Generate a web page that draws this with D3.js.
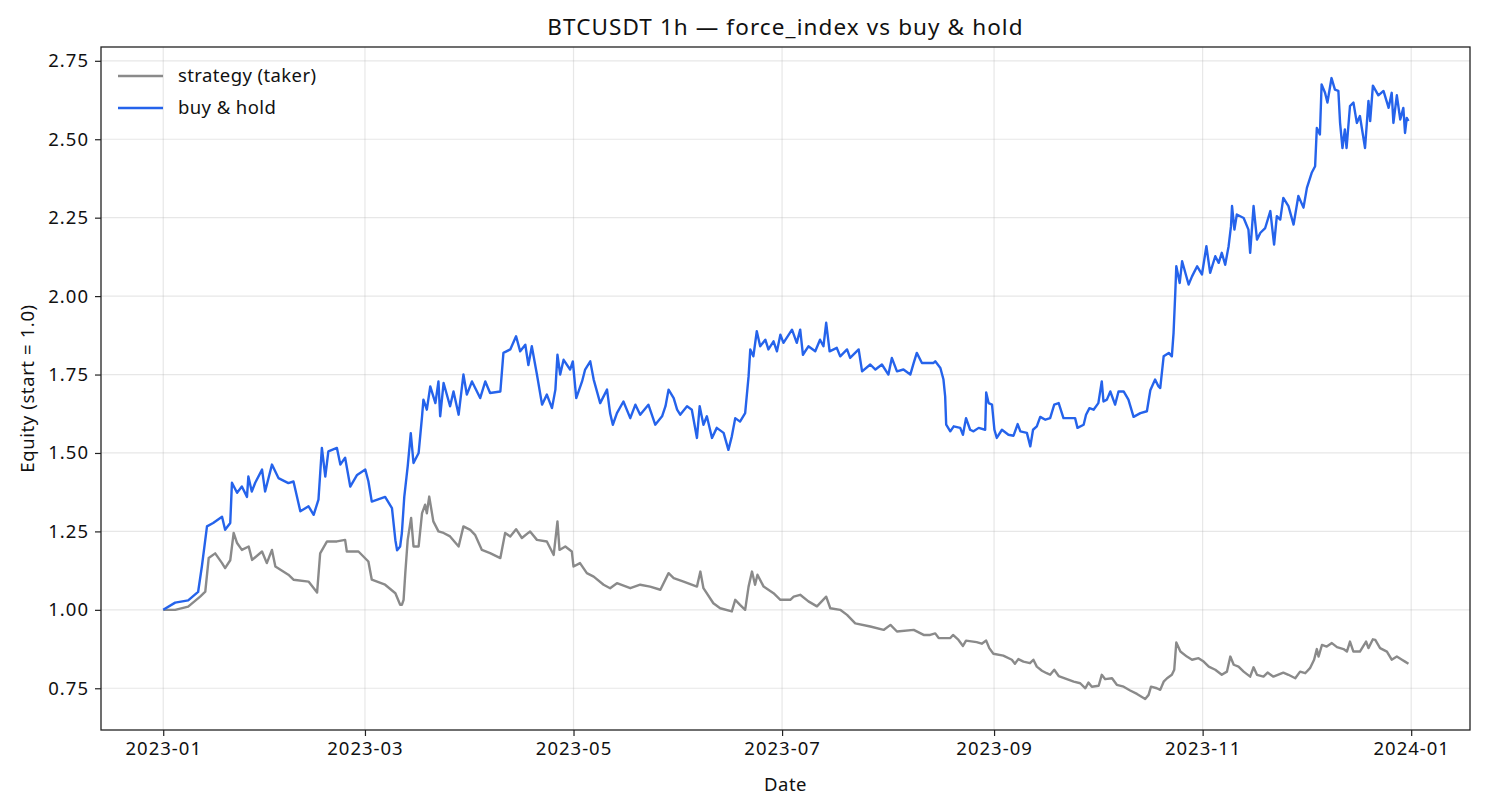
<!DOCTYPE html>
<html>
<head>
<meta charset="utf-8">
<script src="https://cdn.jsdelivr.net/npm/d3@7"></script>
<style>
  html, body { margin: 0; padding: 0; background: #ffffff; }
  svg { display: block; font-family: "Noto Sans", sans-serif; }
</style>
</head>
<body>
<svg id="chart" width="1485" height="810"></svg>
<script>
// ---- data: [day offset from 2023-01-01, equity] ----
const strategyLabel = "strategy (taker)";
const buyHoldLabel = "buy & hold";
const yTickValues = [0.75, 1.00, 1.25, 1.50, 1.75, 2.00, 2.25, 2.50, 2.75];

const strategy = [
[0,1.00],[3.5,1.00],[7.3,1.01],[10.8,1.042],[12.3,1.058],[13.3,1.165],[15.2,1.18],[17.2,1.149],[18.1,1.133],
[19.6,1.158],[20.6,1.245],[21.6,1.213],[23.0,1.191],[25.0,1.202],[26.0,1.159],[28.9,1.186],[30.3,1.149],
[31.8,1.191],[32.8,1.138],[36.6,1.112],[38.1,1.096],[42.5,1.09],[45.0,1.055],[45.9,1.18],[47.9,1.218],
[50.8,1.218],[53.2,1.223],[53.7,1.186],[57.1,1.186],[60.0,1.154],[61.0,1.096],[64.9,1.08],[67.9,1.053],
[69.3,1.016],[69.8,1.016],[70.3,1.032],[70.8,1.117],[71.5,1.223],[72.5,1.293],[73.2,1.202],[74.7,1.202],
[75.7,1.308],[76.6,1.335],[77.1,1.308],[77.8,1.361],[79.0,1.282],[80.5,1.25],[82.0,1.245],[83.9,1.234],
[86.4,1.202],[87.8,1.266],[89.8,1.255],[91.2,1.239],[93.2,1.191],[95.6,1.181],[98.6,1.165],[100.0,1.245],
[101.5,1.234],[103.2,1.257],[104.9,1.229],[107.3,1.25],[109.3,1.223],[112.2,1.218],[114.2,1.175],[115.3,1.282],
[115.9,1.191],[117.6,1.202],[119.5,1.186],[120.0,1.138],[121.9,1.149],[123.9,1.117],[125.9,1.106],[128.8,1.08],
[130.7,1.069],[132.7,1.085],[136.6,1.069],[139.5,1.08],[142.4,1.074],[145.4,1.064],[147.8,1.117],[149.3,1.101],
[152.2,1.09],[156.1,1.074],[157.1,1.122],[158.0,1.069],[160.9,1.021],[162.9,1.005],[166.3,0.995],[167.3,1.032],
[168.7,1.016],[170.2,1.0],[171.2,1.074],[172.2,1.122],[173.1,1.08],[173.8,1.112],[175.6,1.074],[178.5,1.053],
[180.5,1.032],[183.4,1.032],[184.4,1.042],[186.3,1.048],[188.7,1.027],[191.2,1.011],[193.9,1.042],[195.1,1.005],
[198.0,1.0],[200.0,0.984],[202.4,0.957],[206.8,0.947],[210.7,0.936],[212.7,0.952],[214.6,0.931],[219.5,0.936],
[222.4,0.92],[224.3,0.92],[225.8,0.925],[226.8,0.91],[230.2,0.91],[231.0,0.92],[232.6,0.904],[233.9,0.885],
[234.8,0.902],[237.9,0.897],[239.4,0.892],[240.7,0.902],[241.6,0.878],[242.8,0.86],[245.7,0.854],[248.2,0.841],
[249.1,0.828],[250.1,0.843],[251.6,0.835],[253.5,0.83],[254.5,0.841],[255.5,0.819],[257.0,0.806],[258.4,0.798],
[259.4,0.793],[260.6,0.809],[261.9,0.789],[264.3,0.779],[266.3,0.771],[268.2,0.766],[269.7,0.75],[270.6,0.768],
[271.6,0.755],[273.6,0.758],[274.5,0.793],[275.5,0.779],[277.5,0.782],[278.9,0.761],[280.9,0.755],[282.8,0.743],
[284.8,0.732],[287.2,0.716],[288.2,0.729],[288.9,0.755],[290.6,0.75],[291.6,0.745],[292.6,0.771],[293.6,0.782],
[295.0,0.793],[295.7,0.809],[296.3,0.896],[297.5,0.867],[299.4,0.851],[300.9,0.841],[302.8,0.846],[304.3,0.835],
[305.8,0.819],[307.7,0.809],[309.6,0.793],[311.1,0.803],[312.1,0.851],[313.1,0.825],[314.5,0.819],[316.0,0.803],
[317.9,0.787],[318.9,0.817],[319.9,0.793],[321.8,0.787],[323.0,0.8],[324.7,0.787],[327.6,0.8],[329.1,0.793],
[331.1,0.782],[332.5,0.803],[334.0,0.798],[335.4,0.814],[336.6,0.841],[337.4,0.875],[337.9,0.851],[338.9,0.888],
[340.3,0.883],[341.8,0.894],[343.3,0.881],[345.2,0.875],[346.2,0.867],[347.1,0.899],[348.1,0.867],[350.0,0.867],
[351.8,0.899],[352.5,0.878],[353.8,0.906],[354.5,0.904],[355.9,0.878],[357.9,0.867],[359.3,0.841],[360.8,0.851],
[362.3,0.841],[363.2,0.835],[364.2,0.828]
];

const buyHold = [
[0,1.00],[3.5,1.023],[7.3,1.03],[10.2,1.057],[11.3,1.138],[12.8,1.266],[14.6,1.277],[17.2,1.297],[18.1,1.255],
[19.6,1.277],[20.1,1.405],[21.6,1.373],[23.0,1.393],[24.5,1.36],[24.9,1.425],[25.9,1.377],[26.9,1.405],
[28.9,1.447],[29.8,1.377],[31.8,1.463],[33.7,1.42],[36.6,1.404],[38.1,1.409],[40.1,1.314],[42.5,1.33],
[44.0,1.303],[45.4,1.351],[46.4,1.516],[47.4,1.425],[48.3,1.505],[50.8,1.516],[51.8,1.463],[53.2,1.485],
[54.7,1.393],[56.7,1.43],[59.1,1.447],[60.0,1.41],[61.0,1.345],[64.9,1.36],[66.9,1.324],[67.9,1.222],
[68.4,1.19],[69.3,1.202],[69.8,1.245],[70.5,1.36],[71.5,1.457],[72.4,1.563],[73.2,1.468],[74.7,1.5],
[75.7,1.617],[76.1,1.67],[77.1,1.638],[78.1,1.712],[79.6,1.659],[80.5,1.728],[81.0,1.617],[82.0,1.723],
[83.9,1.649],[84.9,1.696],[86.4,1.622],[87.8,1.75],[88.8,1.686],[90.3,1.728],[92.7,1.675],[94.2,1.728],
[95.6,1.691],[98.6,1.696],[99.5,1.819],[101.5,1.83],[103.2,1.872],[104.4,1.824],[105.9,1.845],[106.8,1.78],
[107.8,1.84],[109.3,1.75],[110.8,1.654],[112.2,1.686],[113.7,1.643],[114.7,1.702],[115.3,1.813],[116.1,1.75],
[117.1,1.797],[119.0,1.766],[119.8,1.792],[120.8,1.675],[122.5,1.728],[123.4,1.766],[124.9,1.792],[125.9,1.734],
[127.8,1.659],[129.8,1.702],[130.7,1.627],[131.5,1.59],[132.7,1.627],[134.6,1.664],[136.6,1.611],[138.1,1.654],
[139.5,1.622],[141.9,1.654],[143.9,1.59],[145.9,1.617],[146.9,1.649],[147.8,1.702],[149.3,1.675],[150.3,1.638],
[151.2,1.622],[153.2,1.649],[154.6,1.638],[156.1,1.548],[156.9,1.649],[158.0,1.59],[159.0,1.617],[160.5,1.548],
[161.9,1.58],[163.9,1.564],[165.3,1.51],[166.3,1.553],[167.3,1.611],[168.7,1.6],[170.2,1.627],[171.2,1.744],
[171.7,1.83],[172.6,1.808],[173.6,1.888],[174.6,1.84],[176.1,1.861],[177.0,1.83],[178.5,1.856],[179.5,1.824],
[180.5,1.877],[181.4,1.851],[183.9,1.893],[185.3,1.851],[186.3,1.893],[187.1,1.813],[188.7,1.84],[190.7,1.824],
[192.1,1.861],[193.1,1.84],[193.9,1.915],[194.9,1.824],[197.0,1.835],[198.0,1.808],[200.0,1.83],[200.9,1.803],
[203.4,1.83],[204.4,1.76],[206.8,1.782],[208.3,1.766],[210.2,1.782],[212.1,1.75],[213.1,1.803],[214.6,1.76],
[216.5,1.766],[218.5,1.75],[219.5,1.787],[220.4,1.819],[221.9,1.787],[225.3,1.787],[225.8,1.792],[227.3,1.771],
[228.2,1.734],[228.7,1.68],[229.0,1.59],[230.2,1.569],[231.2,1.585],[233.1,1.58],[233.9,1.558],[234.8,1.611],
[236.0,1.574],[237.0,1.569],[238.5,1.58],[240.4,1.574],[240.7,1.693],[241.4,1.659],[242.4,1.654],[243.1,1.574],
[243.8,1.548],[245.3,1.574],[247.2,1.558],[248.7,1.555],[249.9,1.592],[250.7,1.569],[252.6,1.564],[253.6,1.521],
[254.4,1.574],[255.5,1.585],[256.5,1.615],[258.0,1.606],[259.4,1.611],[260.6,1.654],[261.9,1.659],[263.3,1.611],
[265.3,1.611],[266.7,1.611],[267.4,1.58],[269.2,1.59],[269.9,1.622],[270.9,1.643],[272.1,1.638],[273.5,1.659],
[274.5,1.728],[275.0,1.664],[276.0,1.67],[277.0,1.696],[278.4,1.654],[279.4,1.696],[280.9,1.696],[282.3,1.67],
[283.8,1.615],[285.8,1.627],[287.7,1.633],[288.7,1.70],[290.1,1.734],[291.1,1.712],[291.6,1.707],[292.6,1.808],
[294.1,1.819],[295.0,1.808],[295.5,1.883],[296.0,2.01],[296.3,2.095],[297.3,2.042],[298.0,2.111],[299.9,2.037],
[300.9,2.063],[302.4,2.095],[303.8,2.069],[305.1,2.159],[306.2,2.074],[307.7,2.127],[308.7,2.106],[309.6,2.138],
[310.6,2.1],[311.6,2.159],[312.3,2.223],[312.6,2.287],[313.3,2.212],[314.0,2.26],[316.0,2.249],[317.4,2.212],
[317.9,2.138],[318.9,2.287],[319.9,2.18],[320.9,2.202],[322.3,2.217],[323.8,2.271],[324.9,2.164],[325.7,2.255],
[326.7,2.244],[327.6,2.313],[329.1,2.287],[330.6,2.228],[332.0,2.319],[333.5,2.282],[334.5,2.345],[335.9,2.393],
[336.9,2.414],[337.4,2.536],[338.3,2.515],[338.8,2.675],[339.8,2.648],[340.5,2.617],[341.7,2.695],[342.7,2.658],
[343.7,2.654],[344.2,2.552],[344.9,2.472],[345.6,2.531],[346.1,2.472],[347.1,2.606],[348.1,2.617],[349.1,2.552],
[350.0,2.574],[351.5,2.472],[352.5,2.622],[353.0,2.558],[353.8,2.671],[355.4,2.64],[356.9,2.654],[358.4,2.6],
[359.3,2.648],[359.8,2.552],[360.8,2.64],[361.8,2.563],[362.7,2.6],[363.2,2.52],[363.7,2.568],[364.2,2.558]
];

// ---- layout ----
const svg = d3.select("#chart");
const plot = { left: 101, right: 1470, top: 47, bottom: 730 };
const t0 = Date.UTC(2023, 0, 1);
const DAY = 864e5;
const toDate = d => new Date(t0 + d * DAY);

const x = d3.scaleUtc()
  .domain([toDate(-18.2), toDate(382.2)])
  .range([plot.left, plot.right]);
const y = d3.scaleLinear()
  .domain([0.617, 2.794])
  .range([plot.bottom, plot.top]);

const font = '"Noto Sans", sans-serif';

// grid
const xTicks = x.ticks(d3.utcMonth.every(2));
const grid = svg.append("g");
grid.selectAll(".gx").data(xTicks).join("line")
  .attr("x1", d => x(d)).attr("x2", d => x(d))
  .attr("y1", plot.top).attr("y2", plot.bottom)
  .attr("stroke", "#b0b0b0").attr("stroke-opacity", 0.3).attr("stroke-width", 1.2);
grid.selectAll(".gy").data(yTickValues).join("line")
  .attr("x1", plot.left).attr("x2", plot.right)
  .attr("y1", d => y(d)).attr("y2", d => y(d))
  .attr("stroke", "#b0b0b0").attr("stroke-opacity", 0.3).attr("stroke-width", 1.2);

// lines
const line = d3.line().x(d => x(toDate(d[0]))).y(d => y(d[1]));
svg.append("path").datum(strategy)
  .attr("fill", "none").attr("stroke", "#8a8a8a").attr("stroke-width", 2.4)
  .attr("stroke-linejoin", "round").attr("d", line);
svg.append("path").datum(buyHold)
  .attr("fill", "none").attr("stroke", "#2563eb").attr("stroke-width", 2.4)
  .attr("stroke-linejoin", "round").attr("d", line);

// axes
const xAxis = svg.append("g")
  .attr("transform", `translate(0,${plot.bottom})`)
  .call(d3.axisBottom(x).tickValues(xTicks).tickFormat(d3.utcFormat("%Y-%m")).tickSizeOuter(0).tickSize(6).tickPadding(6));
const yAxis = svg.append("g")
  .attr("transform", `translate(${plot.left},0)`)
  .call(d3.axisLeft(y).tickValues(yTickValues).tickFormat(d3.format(".2f")).tickSizeOuter(0).tickSize(6).tickPadding(6));
[xAxis, yAxis].forEach(g => {
  g.select(".domain").remove();
  g.selectAll("line").attr("stroke", "#222").attr("stroke-width", 1.2);
  g.selectAll("text").attr("fill", "#111").style("font-family", font)
    .style("font-size", "18.5px").style("letter-spacing", "1px");
});

// frame
svg.append("rect")
  .attr("x", plot.left).attr("y", plot.top)
  .attr("width", plot.right - plot.left).attr("height", plot.bottom - plot.top)
  .attr("fill", "none").attr("stroke", "#222").attr("stroke-width", 1.3);

// title & labels
svg.append("text").attr("x", (plot.left + plot.right) / 2).attr("y", 35)
  .attr("text-anchor", "middle").style("font-family", font).style("font-size", "22.5px")
  .style("letter-spacing", "1.1px").attr("fill", "#111")
  .text("BTCUSDT 1h — force_index vs buy & hold");
svg.append("text").attr("x", (plot.left + plot.right) / 2).attr("y", 791)
  .attr("text-anchor", "middle").style("font-family", font).style("font-size", "18.5px")
  .style("letter-spacing", "0.5px").attr("fill", "#111")
  .text("Date");
svg.append("text")
  .attr("transform", `translate(34,${(plot.top + plot.bottom) / 2}) rotate(-90)`)
  .attr("text-anchor", "middle").style("font-family", font).style("font-size", "18.5px")
  .style("letter-spacing", "0.6px").attr("fill", "#111")
  .text("Equity (start = 1.0)");

// legend
const legendItems = [
  { label: strategyLabel, color: "#8a8a8a" },
  { label: buyHoldLabel, color: "#2563eb" }
];
const lg = svg.append("g");
legendItems.forEach((it, i) => {
  const yy = 76 + i * 32;
  lg.append("line").attr("x1", 118).attr("x2", 163).attr("y1", yy).attr("y2", yy)
    .attr("stroke", it.color).attr("stroke-width", 2.4);
  lg.append("text").attr("x", 178).attr("y", yy).attr("dy", "0.35em")
    .style("font-family", font).style("font-size", "18.5px").style("letter-spacing", "0.4px")
    .attr("fill", "#111")
    .text(it.label);
});
</script>
</body>
</html>
